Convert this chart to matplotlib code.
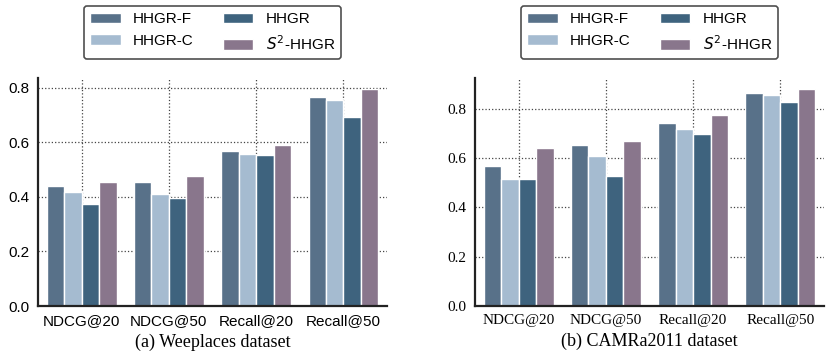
import numpy as np
import matplotlib.pyplot as plt

metrics = ["NDCG@20", "NDCG@50", "Recall@20", "Recall@50"]
methods = ["HHGR-F", "HHGR-C", "HHGR", "$S^2$-HHGR"]
colors = ["#587189", "#a5bbd0", "#3e637e", "#89768c"]

# Weeplaces
wee_f = [0.439, 0.453, 0.570, 0.765]
wee_c = [0.418, 0.409, 0.558, 0.756]
wee_h = [0.375, 0.395, 0.552, 0.692]
wee_s = [0.453, 0.476, 0.589, 0.796]

# CAMRa2011
cam_f = [0.569, 0.654, 0.742, 0.865]
cam_c = [0.516, 0.610, 0.718, 0.855]
cam_h = [0.514, 0.529, 0.700, 0.829]
cam_s = [0.642, 0.668, 0.777, 0.881]

fig = plt.figure(figsize=(8.3, 3.6), dpi=100)
ax1 = fig.add_axes([0.0458, 0.15, 0.4205, 0.633])
ax2 = fig.add_axes([0.5723, 0.15, 0.4205, 0.633])

x = np.arange(len(metrics))
w = 0.2


def draw(ax, series, title, font):
    for i, vals in enumerate(series):
        ax.bar(x + (i - 1.5) * w, vals, w, color=colors[i], edgecolor="white",
               linewidth=1.0, label=methods[i])
    ax.set_xlim(-0.5, 3.5)
    ax.set_yticks([0.0, 0.2, 0.4, 0.6, 0.8])
    ax.set_yticklabels(["0.0", "0.2", "0.4", "0.6", "0.8"], family=font, fontsize=11)
    ax.set_xticks(x)
    ax.set_xticklabels(metrics, family=font, fontsize=11)
    ax.tick_params(length=0, pad=6)
    ax.grid(True, linestyle=":", color="#444444", linewidth=0.9)
    ax.set_axisbelow(True)
    for s in ["top", "right"]:
        ax.spines[s].set_visible(False)
    for s in ["left", "bottom"]:
        ax.spines[s].set_linewidth(1.6)
        ax.spines[s].set_color("#222222")
        ax.spines[s].set_zorder(5)
    ax.set_xlabel(title, family="Liberation Serif", fontsize=13, labelpad=4)
    leg = ax.legend(loc="upper center", bbox_to_anchor=(0.5, 1.316), ncol=2,
                    borderaxespad=0, frameon=True, fancybox=True,
                    prop={"family": "Liberation Sans", "size": 11},
                    columnspacing=1.9, handletextpad=0.8)
    leg.get_frame().set_edgecolor("#222222")
    leg.get_frame().set_linewidth(1.2)


draw(ax1, [wee_f, wee_c, wee_h, wee_s], "(a) Weeplaces dataset", "Liberation Sans")
draw(ax2, [cam_f, cam_c, cam_h, cam_s], "(b) CAMRa2011 dataset", "Liberation Serif")

fig.savefig("out.png", dpi=100)
